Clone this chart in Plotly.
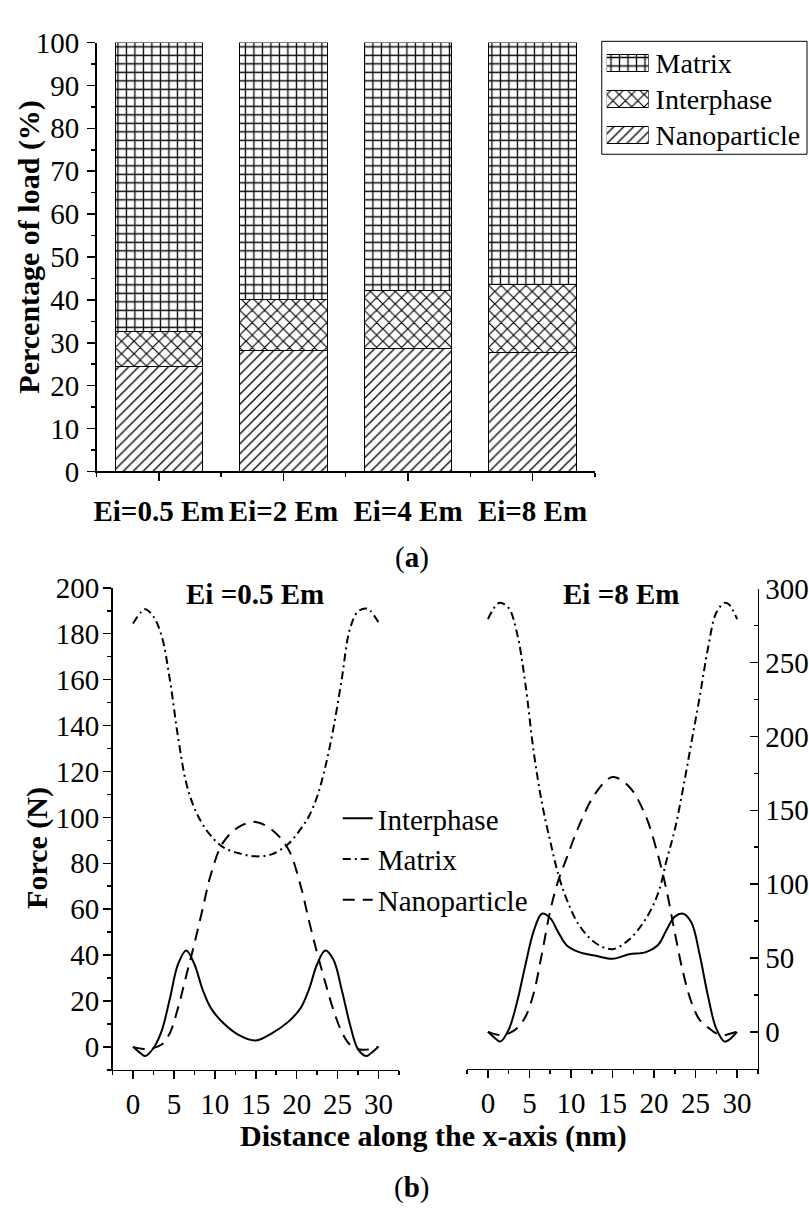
import plotly.graph_objects as go

# ---------------- data: panel (a) ----------------
categories = ["Ei=0.5 Em", "Ei=2 Em", "Ei=4 Em", "Ei=8 Em"]
nanoparticle_pct = [24.4, 28.3, 28.7, 27.8]
interphase_pct = [8.2, 11.9, 13.6, 15.7]
matrix_pct = [67.4, 59.8, 57.7, 56.5]
series_names = ["Nanoparticle", "Interphase", "Matrix"]

# ---------------- data: panel (b) ----------------
x_nm = [0, 1, 1.5, 2.5, 3.5, 4.5, 5.5, 6.5, 7.5, 8.5, 9.5, 11, 13, 15, 17, 19,
        20.5, 21.5, 22.5, 23.5, 24.5, 25.5, 26.5, 27.5, 28.5, 29, 30]
# Ei = 0.5 Em (left axis, N)
interphase_05 = [0, -3, -4, -0.5, 7, 21, 36, 42, 36, 25, 17, 10.5, 5, 2.8, 6, 11,
                 17, 25, 36, 42, 38, 25, 10, -1, -4, -3, 0]
matrix_05 = [184.5, 189.5, 190.7, 187.5, 179, 160, 135, 115, 104, 97, 92, 87, 84.3, 83,
             84, 88.5, 95, 100.5, 109, 122, 139, 160, 182, 189.7, 191, 190, 185]
nanoparticle_05 = [0, -0.8, -1, -0.5, 1, 6, 17, 31, 45, 60, 75, 89, 96, 98, 94.5, 86,
                   70, 55, 41, 28, 16, 6.6, 1, -1, -1.2, -1, 0]
# Ei = 8 Em (right axis, N)
interphase_8 = [0, -5, -6.6, 1.5, 20, 45, 68, 80, 77, 67, 58.5, 54, 51.5, 49.5, 52.5, 54,
                59, 69, 78, 80, 74, 52, 24, 2, -6.6, -5.5, 0]
matrix_8 = [279.5, 289, 290.5, 287, 270, 236, 190, 155, 129, 106, 89.5, 72, 60, 56, 62.5,
            76.5, 94, 116, 137, 165, 196, 227, 260, 284, 290.5, 289.5, 279.5]
nanoparticle_8 = [0, -1.8, -2.2, -1, 2.5, 10, 26, 53, 82, 103, 118, 140, 162, 172.5, 166,
                  146, 119, 96, 67, 40, 20, 8, 3, -1, -2.2, -1.5, 0]

W, H = 809, 1216
FONT = "Times New Roman, Liberation Serif, Tinos, Times, serif"


def px(xp):
    return xp / W


def py(yp):
    return 1 - yp / H


patterns = {
    "Nanoparticle": dict(shape="/", size=7, solidity=0.19),
    "Interphase": dict(shape="x", size=8.8, solidity=0.25),
    "Matrix": dict(shape="+", size=8.5, solidity=0.28),
}
values = {"Nanoparticle": nanoparticle_pct, "Interphase": interphase_pct, "Matrix": matrix_pct}

fig = go.Figure()
xpos = list(range(len(categories)))
for name in series_names:
    pat = patterns[name]
    fig.add_trace(go.Bar(
        x=xpos, y=values[name], width=0.7, name=name, showlegend=False,
        marker=dict(color="white", line=dict(color="black", width=1),
                    pattern=dict(shape=pat["shape"], size=pat["size"], solidity=pat["solidity"],
                                 fgcolor="black", bgcolor="white", fillmode="replace")),
        xaxis="x", yaxis="y"))
    # legend swatch for panel (a)
    fig.add_trace(go.Bar(
        x=[1], y=[name], orientation="h", width=0.46, showlegend=False, hoverinfo="skip",
        marker=dict(color="white", line=dict(color="black", width=1),
                    pattern=dict(shape=pat["shape"], size=pat["size"], solidity=pat["solidity"],
                                 fgcolor="black", bgcolor="white", fillmode="replace")),
        xaxis="x4", yaxis="y4"))

line_styles = {
    "Interphase": dict(color="black", width=2, shape="spline"),
    "Matrix": dict(color="black", width=2, shape="spline", dash="8px,4px,2px,4px"),
    "Nanoparticle": dict(color="black", width=2, shape="spline", dash="12px,8px"),
}
left = {"Interphase": interphase_05, "Matrix": matrix_05, "Nanoparticle": nanoparticle_05}
right = {"Interphase": interphase_8, "Matrix": matrix_8, "Nanoparticle": nanoparticle_8}
for name in ["Interphase", "Matrix", "Nanoparticle"]:
    fig.add_trace(go.Scatter(x=x_nm, y=left[name], mode="lines", name=name,
                             line=line_styles[name], legend="legend2", showlegend=True,
                             xaxis="x2", yaxis="y2"))
for name in ["Interphase", "Matrix", "Nanoparticle"]:
    fig.add_trace(go.Scatter(x=x_nm, y=right[name], mode="lines", name=name,
                             line=line_styles[name], showlegend=False,
                             xaxis="x3", yaxis="y3"))

tickfont = dict(family=FONT, size=29, color="black")
axbase = dict(showline=True, linecolor="black", linewidth=1.5, showgrid=False, zeroline=False,
              ticks="outside", ticklen=8, tickwidth=1.5, tickcolor="black", tickfont=tickfont)

fig.update_layout(
    width=W, height=H, autosize=False,
    margin=dict(l=0, r=0, t=0, b=0),
    paper_bgcolor="white", plot_bgcolor="white",
    barmode="stack", bargap=0.3,
    font=dict(family=FONT, size=29, color="black"),
    xaxis=dict(axbase, domain=[px(94), px(594)], range=[-0.5, 3.5], anchor="y",
               tickmode="array", tickvals=xpos, ticklabelstandoff=5,
               ticktext=["<b>%s</b>" % c for c in categories],
               minor=dict(tickmode="array", tickvals=[i - 0.5 for i in range(len(categories) + 1)],
                          ticks="outside", ticklen=4, tickwidth=1.5, tickcolor="black")),
    yaxis=dict(axbase, domain=[py(467.7), py(27.3)], range=[0, 100], anchor="x",
               tick0=0, dtick=10, ticklabelstandoff=2,
               minor=dict(dtick=5, ticks="outside", ticklen=4, tickwidth=1.5, tickcolor="black")),
    xaxis2=dict(axbase, domain=[px(110), px(397.4)], range=[-2.5, 32.5], anchor="y2",
                tick0=0, dtick=5,
                minor=dict(dtick=2.5, ticks="outside", ticklen=4, tickwidth=1.5, tickcolor="black")),
    yaxis2=dict(axbase, domain=[py(1082.3), py(587.3)], range=[-10, 200], anchor="x2",
                tick0=0, dtick=20, ticklabelstandoff=-2,
                minor=dict(dtick=10, ticks="outside", ticklen=4, tickwidth=1.5, tickcolor="black")),
    xaxis3=dict(axbase, domain=[px(465.9), px(757.7)], range=[-2.5, 32.5], anchor="y3",
                tick0=0, dtick=5,
                minor=dict(dtick=2.5, ticks="outside", ticklen=4, tickwidth=1.5, tickcolor="black")),
    yaxis3=dict(axbase, domain=[py(1081.2), py(588.3)], range=[-25, 300], anchor="x3",
                side="right", ticks="inside", tick0=0, dtick=50,
                minor=dict(dtick=25, ticks="inside", ticklen=4, tickwidth=1.5, tickcolor="black")),
    xaxis4=dict(domain=[px(606), px(648)], range=[0, 1], anchor="y4", visible=False, fixedrange=True),
    yaxis4=dict(domain=[py(140.5), py(29.5)], anchor="x4", type="category",
                categoryorder="array", categoryarray=series_names, range=[-0.5, 2.5],
                side="right", showline=False, showgrid=False, zeroline=False, ticks="",
                ticklabelstandoff=6, tickfont=dict(family=FONT, size=28, color="black")),
    legend2=dict(x=px(336), y=py(798), xanchor="left", yanchor="top",
                 bgcolor="rgba(0,0,0,0)", borderwidth=0,
                 font=dict(family=FONT, size=29, color="black"), tracegroupgap=0),
    showlegend=True,
)

fig.add_shape(type="rect", xref="paper", yref="paper", x0=px(601), x1=px(807),
              y0=py(142), y1=py(26), line=dict(color="black", width=1))

ann = [
    dict(text="(<b>a</b>)", x=px(411), y=py(556), size=29, angle=0),
    dict(text="(<b>b</b>)", x=px(410), y=py(1203), size=29, angle=0),
    dict(text="<b>Ei =0.5 Em</b>", x=px(253.3), y=py(594), size=29, angle=0),
    dict(text="<b>Ei =8 Em</b>", x=px(620), y=py(594), size=29, angle=0),
    dict(text="<b>Percentage of load (%)</b>", x=px(26), y=py(237), size=30, angle=-90),
    dict(text="<b>Force (N)</b>", x=px(33.5), y=py(854), size=30, angle=-90),
    dict(text="<b>Distance along the x-axis (nm)</b>", x=px(432.5), y=py(1150), size=30, angle=0),
]
for a in ann:
    fig.add_annotation(text=a["text"], x=a["x"], y=a["y"], xref="paper", yref="paper",
                       xanchor="center", yanchor="middle", showarrow=False, textangle=a["angle"],
                       font=dict(family=FONT, size=a["size"], color="black"))

fig.write_html("out.html", config={"displayModeBar": False, "staticPlot": True},
               post_script="document.body.style.margin='0px';document.body.style.overflow='hidden';")
